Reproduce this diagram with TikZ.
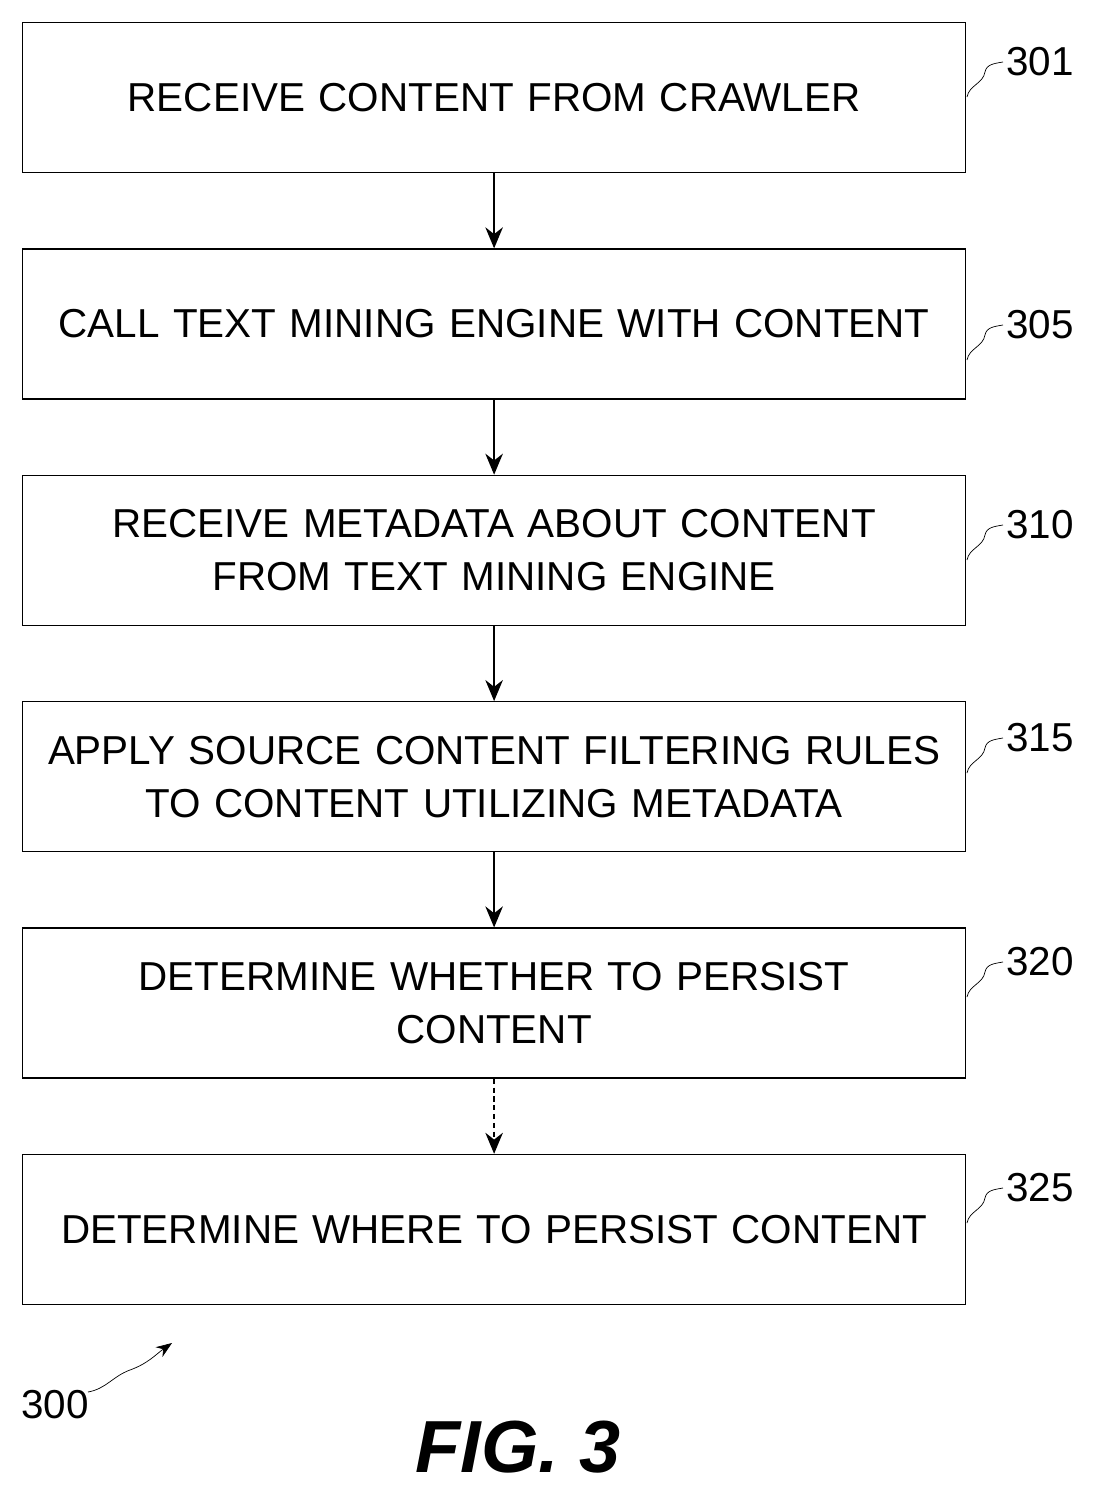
\documentclass[tikz,border=0pt]{standalone}
\usepackage{fontspec}
\setmainfont{Liberation Sans}
\usetikzlibrary{positioning,arrows.meta}

\begin{document}
\begin{tikzpicture}[x=0.02cm, y=-0.02cm, every node/.style={font=\fontsize{23}{30}\selectfont},
    stepbox/.style={draw, thick, text width=18.5cm, minimum width=18.86cm, minimum height=3cm, align=center, inner sep=0pt},
    flow/.style={-{Stealth[length=12pt,width=10pt]}, thick},
    tag/.style={thin}]
    \useasboundingbox (0,0) rectangle (1094,1493);

    % Process steps
    \node[stepbox, anchor=north west] (s301) at (22,22) {RECEIVE CONTENT FROM CRAWLER};
    \node[stepbox, below=1.5cm of s301] (s305) {CALL TEXT MINING ENGINE WITH CONTENT};
    \node[stepbox, below=1.5cm of s305] (s310) {RECEIVE METADATA ABOUT CONTENT\\FROM TEXT MINING ENGINE};
    \node[stepbox, below=1.5cm of s310] (s315) {APPLY SOURCE CONTENT FILTERING RULES\\TO CONTENT UTILIZING METADATA};
    \node[stepbox, below=1.5cm of s315] (s320) {DETERMINE WHETHER TO PERSIST\\CONTENT};
    \node[stepbox, below=1.5cm of s320] (s325) {DETERMINE WHERE TO PERSIST CONTENT};

    \draw[flow] (s301) -- (s305);
    \draw[flow] (s305) -- (s310);
    \draw[flow] (s310) -- (s315);
    \draw[flow] (s315) -- (s320);
    \draw[flow, densely dashed] (s320) -- (s325);

    % Reference numerals
    \foreach \n/\y in {301/62, 305/325, 310/525, 315/738, 320/962, 325/1188} {
        \node (n\n) at (1040,\y) {\n};
        \draw[tag] (967,\y+35) to[out=80,in=-100] (985,\y+10) to[out=80,in=190] (1003,\y);
    }

    \node (n300) at (55,1405) {300};
    \draw[tag, -{Stealth[length=9pt]}] (88,1392) to[out=10,in=200] (130,1370) to[out=20,in=215] (172,1343);

    \node[font=\fontsize{42}{46}\selectfont\bfseries\itshape] (fig) at (518,1447) {FIG. 3};
\end{tikzpicture}
\end{document}
